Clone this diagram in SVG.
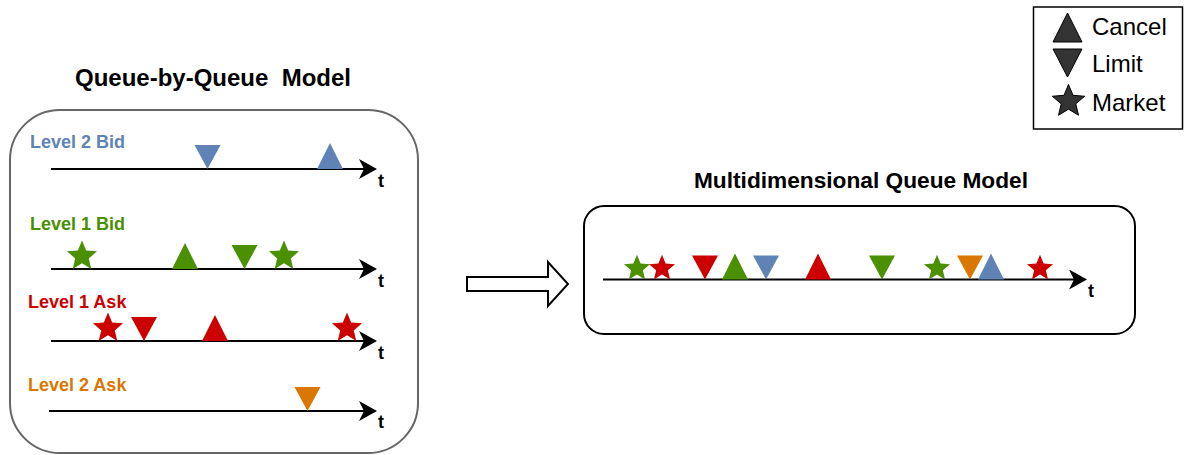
<svg xmlns="http://www.w3.org/2000/svg" xmlns:xlink="http://www.w3.org/1999/xlink" width="1186" height="455" viewBox="0 0 1186 455">
<style>
  text { font-family: "Liberation Sans", Arial, Helvetica, sans-serif; }
  .title { font-size: 22.7px; font-weight: bold; fill: #000; text-anchor: middle; }
  .lvl { font-size: 18px; font-weight: bold; }
  .t { font-size: 18px; font-weight: bold; fill: #000; }
  .axis { stroke: #000; stroke-width: 2; fill: none; marker-end: url(#ah); }
  .leg { font-size: 24px; fill: #000; }
  .legshape { fill: #333; stroke: #000; stroke-width: 1; }
  .blue { fill: #6083B6; }
  .green { fill: #4A9000; }
  .red { fill: #CC0000; }
  .orange { fill: #D97700; }
</style>
<defs>
  <marker id="ah" viewBox="0 0 18 20" refX="5" refY="10" markerWidth="18" markerHeight="20" markerUnits="userSpaceOnUse" orient="auto">
    <path d="M0,0 L18,10 L0,20 L5,10 Z" fill="#000"/>
  </marker>
  <path id="star" d="M0,-1 L0.2645,-0.3641 L0.9511,-0.309 L0.428,0.1391 L0.5878,0.809 L0,0.45 L-0.5878,0.809 L-0.428,0.1391 L-0.9511,-0.309 L-0.2645,-0.3641 Z"/>
  <path id="up" d="M-13,0 L13,0 L0,-26 Z"/>
  <path id="down" d="M-13,-24 L13,-24 L0,0 Z"/>
</defs>

<g id="legend">
  <rect x="1033.5" y="7" width="149" height="122" fill="#fff" stroke="#000" stroke-width="1.5"/>
  <path class="legshape" d="M1053,42 L1082,42 L1067.5,13 Z"/>
  <path class="legshape" d="M1053,49 L1082,49 L1067.5,77 Z"/>
  <path class="legshape" d="M1068.5,84.5 L1073,95.31 L1084.67,96.25 L1075.78,103.86 L1078.49,115.25 L1068.5,109.15 L1058.51,115.25 L1061.22,103.86 L1052.33,96.25 L1064,95.31 Z"/>
  <text class="leg" x="1092" y="35">Cancel</text>
  <text class="leg" x="1092" y="72">Limit</text>
  <text class="leg" x="1092" y="111">Market</text>
</g>

<g id="queue-by-queue">
  <text class="title" x="213" y="86" xml:space="preserve" style="font-size:24px">Queue-by-Queue  Model</text>
  <rect x="10" y="110" width="408" height="343" rx="50" ry="50" fill="#fff" stroke="#666" stroke-width="2"/>

  <g id="level2bid">
    <text class="lvl" x="30" y="148" fill="#6083B6">Level 2 Bid</text>
    <line class="axis" x1="51" y1="169" x2="364" y2="169"/>
    <text class="t" x="378" y="187">t</text>
    <use xlink:href="#down" href="#down" class="blue" transform="translate(207.5,169)"/>
    <use xlink:href="#up" href="#up" class="blue" transform="translate(330,169)"/>
  </g>

  <g id="level1bid">
    <text class="lvl" x="30" y="230" fill="#4A9000">Level 1 Bid</text>
    <line class="axis" x1="51" y1="269" x2="364" y2="269"/>
    <text class="t" x="378" y="287">t</text>
    <use xlink:href="#star" href="#star" class="green" transform="translate(82,256.2) scale(15.8)"/>
    <use xlink:href="#up" href="#up" class="green" transform="translate(185,269)"/>
    <use xlink:href="#down" href="#down" class="green" transform="translate(244.5,269)"/>
    <use xlink:href="#star" href="#star" class="green" transform="translate(284,256.2) scale(15.8)"/>
  </g>

  <g id="level1ask">
    <text class="lvl" x="28" y="308" fill="#CC0000">Level 1 Ask</text>
    <line class="axis" x1="51" y1="341" x2="364" y2="341"/>
    <text class="t" x="378" y="359">t</text>
    <use xlink:href="#star" href="#star" class="red" transform="translate(108,328.2) scale(15.8)"/>
    <use xlink:href="#down" href="#down" class="red" transform="translate(144,341)"/>
    <use xlink:href="#up" href="#up" class="red" transform="translate(215,341)"/>
    <use xlink:href="#star" href="#star" class="red" transform="translate(347,328.2) scale(15.8)"/>
  </g>

  <g id="level2ask">
    <text class="lvl" x="28" y="391" fill="#D97700">Level 2 Ask</text>
    <line class="axis" x1="49" y1="411" x2="364" y2="411"/>
    <text class="t" x="378" y="428">t</text>
    <use xlink:href="#down" href="#down" class="orange" transform="translate(307.5,411)"/>
  </g>
</g>

<g id="multidimensional">
  <text class="title" x="861" y="188">Multidimensional Queue Model</text>
  <rect x="584" y="206" width="551" height="128" rx="20" ry="20" fill="#fff" stroke="#000" stroke-width="2"/>
  <line class="axis" x1="603" y1="279.5" x2="1074" y2="279.5"/>
  <text class="t" x="1088" y="297">t</text>
  <use xlink:href="#star" href="#star" class="green" transform="translate(637,268.4) scale(13.7)"/>
  <use xlink:href="#star" href="#star" class="red" transform="translate(662,268.4) scale(13.7)"/>
  <use xlink:href="#down" href="#down" class="red" transform="translate(705,279.5)"/>
  <use xlink:href="#up" href="#up" class="green" transform="translate(735,279.5)"/>
  <use xlink:href="#down" href="#down" class="blue" transform="translate(766,279.5)"/>
  <use xlink:href="#up" href="#up" class="red" transform="translate(818,279.5)"/>
  <use xlink:href="#down" href="#down" class="green" transform="translate(882,279.5)"/>
  <use xlink:href="#star" href="#star" class="green" transform="translate(937,268.4) scale(13.7)"/>
  <use xlink:href="#down" href="#down" class="orange" transform="translate(970,279.5)"/>
  <use xlink:href="#up" href="#up" class="blue" transform="translate(991,279.5)"/>
  <use xlink:href="#star" href="#star" class="red" transform="translate(1040,268.4) scale(13.7)"/>
</g>

<g id="connectors">
  <path d="M467,277 L548,277 L548,262 L568,284 L548,306 L548,291 L467,291 Z" fill="#fff" stroke="#000" stroke-width="2" stroke-linejoin="miter"/>
</g>
</svg>
